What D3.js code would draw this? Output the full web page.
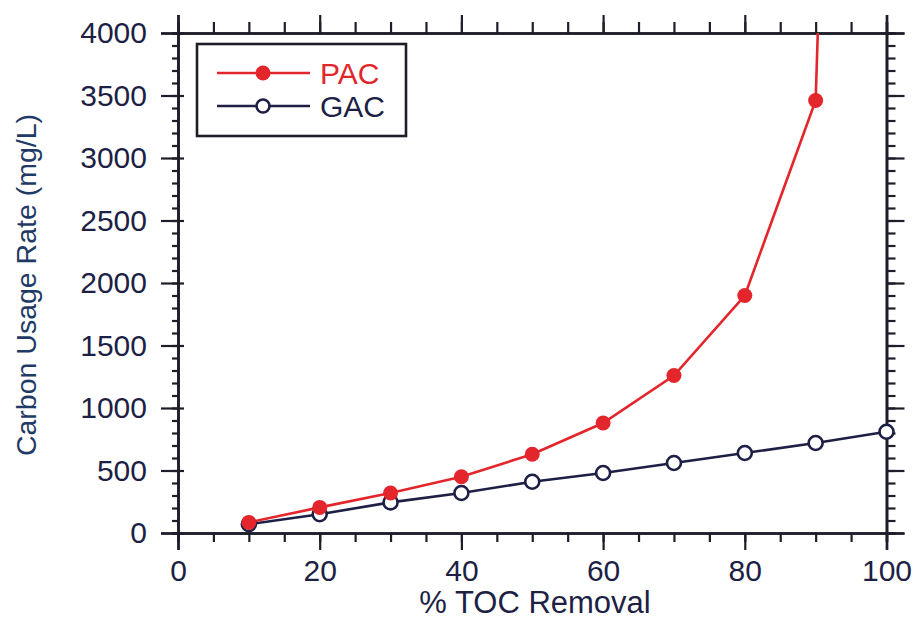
<!DOCTYPE html>
<html><head><meta charset="utf-8">
<script src="https://cdn.jsdelivr.net/npm/d3@7"></script>
<style>body{margin:0;background:#fff}svg{display:block}text{font-family:"Liberation Sans",Arial,sans-serif}</style>
</head><body><svg id="c" width="918" height="620"></svg>
<script>
const pacX = [10, 20, 30, 40, 50, 60, 70, 80, 90];
const pacY = [85, 205, 320, 450, 630, 880, 1260, 1900, 3460];
const pacTailX = [90, 90.3];
const pacTailY = [3460, 4000];
const gacX = [10, 20, 30, 40, 50, 60, 70, 80, 90, 100];
const gacY = [70, 150, 245, 320, 410, 480, 560, 640, 720, 810];
const xTicks = [0, 20, 40, 60, 80, 100];
const yTicks = [0, 500, 1000, 1500, 2000, 2500, 3000, 3500, 4000];
const seriesNames = ["PAC", "GAC"];

const svg = d3.select("#c");
const x = d3.scaleLinear().domain([0, 100]).range([178, 886.5]);
const y = d3.scaleLinear().domain([0, 4000]).range([533, 33]);
const red = "#e3262c", dark = "#1d1f45", axisCol = "#1e1e2a";

const minorX = d3.range(0, 101, 5), minorY = d3.range(0, 4001, 100);

function styleAxis(g){ g.selectAll("path.domain").attr("stroke", axisCol).attr("stroke-width", 2.6);
  g.selectAll(".tick line").attr("stroke", axisCol).attr("stroke-width", 2.2);
  g.selectAll("text").attr("fill", dark).attr("font-size", 30).attr("font-family", '"Liberation Sans", Arial, sans-serif'); }

// bottom
svg.append("g").attr("transform", `translate(0,${y(0)})`)
  .call(d3.axisBottom(x).tickValues(minorX).tickSize(9).tickFormat("")).call(styleAxis);
svg.append("g").attr("transform", `translate(0,${y(0)})`)
  .call(d3.axisBottom(x).tickValues(xTicks).tickSize(17).tickPadding(10).tickFormat(d3.format("d"))).call(styleAxis);
// top
svg.append("g").attr("transform", `translate(0,${y(4000)})`)
  .call(d3.axisTop(x).tickValues(minorX).tickSize(11).tickFormat("")).call(styleAxis);
svg.append("g").attr("transform", `translate(0,${y(4000)})`)
  .call(d3.axisTop(x).tickValues(xTicks).tickSize(18).tickFormat("")).call(styleAxis);
// left
svg.append("g").attr("transform", `translate(${x(0)},0)`)
  .call(d3.axisLeft(y).tickValues(minorY).tickSize(6).tickFormat("")).call(styleAxis);
const la = svg.append("g").attr("transform", `translate(${x(0)},0)`)
  .call(d3.axisLeft(y).tickValues(yTicks).tickSize(17).tickPadding(14).tickFormat(d3.format("d"))).call(styleAxis);
la.selectAll(".tick").append("line").attr("x1", 0).attr("x2", 6).attr("stroke", axisCol).attr("stroke-width", 2.2);
// right
svg.append("g").attr("transform", `translate(${x(100)},0)`)
  .call(d3.axisRight(y).tickValues(minorY).tickSize(9).tickFormat("")).call(styleAxis);
svg.append("g").attr("transform", `translate(${x(100)},0)`)
  .call(d3.axisRight(y).tickValues(yTicks).tickSize(18).tickFormat("")).call(styleAxis);

// titles
svg.append("text").attr("x", 535).attr("y", 613).attr("text-anchor", "middle")
  .attr("font-size", 31).attr("fill", dark).text("% TOC Removal");
svg.append("text").attr("transform", "translate(36,285) rotate(-90)").attr("text-anchor", "middle")
  .attr("font-size", 28.5).attr("fill", "#1f3a66").text("Carbon Usage Rate (mg/L)");

const line = d3.line().x(d => x(d[0])).y(d => y(d[1]));
const pacPts = pacX.map((v, i) => [v, pacY[i]]);
const gacPts = gacX.map((v, i) => [v, gacY[i]]);
const tail = pacTailX.map((v, i) => [v, pacTailY[i]]);

svg.append("path").attr("d", line(gacPts)).attr("fill", "none").attr("stroke", dark).attr("stroke-width", 2.6);
svg.append("path").attr("d", line(pacPts.concat(tail.slice(1)))).attr("fill", "none").attr("stroke", red).attr("stroke-width", 2.6);
svg.selectAll("circle.g").data(gacPts).join("circle").attr("class", "g")
  .attr("cx", d => x(d[0])).attr("cy", d => y(d[1])).attr("r", 7)
  .attr("fill", "#fff").attr("stroke", dark).attr("stroke-width", 2.6);
svg.selectAll("circle.p").data(pacPts).join("circle").attr("class", "p")
  .attr("cx", d => x(d[0])).attr("cy", d => y(d[1])).attr("r", 7.5).attr("fill", red);

// legend
const lg = svg.append("g");
lg.append("rect").attr("x", 197).attr("y", 44).attr("width", 209).attr("height", 92)
  .attr("fill", "#fff").attr("stroke", axisCol).attr("stroke-width", 2.6);
const rows = [{name: seriesNames[0], col: red, filled: true, yy: 73}, {name: seriesNames[1], col: dark, filled: false, yy: 106}];
rows.forEach(r => {
  lg.append("line").attr("x1", 217).attr("x2", 310).attr("y1", r.yy).attr("y2", r.yy).attr("stroke", r.col).attr("stroke-width", 2.6);
  if (r.filled) lg.append("circle").attr("cx", 263).attr("cy", r.yy).attr("r", 7.5).attr("fill", red);
  else lg.append("circle").attr("cx", 263).attr("cy", r.yy).attr("r", 6.5).attr("fill", "#fff").attr("stroke", dark).attr("stroke-width", 2.6);
  lg.append("text").attr("x", 320).attr("y", r.yy + 11).attr("font-size", 30).attr("fill", r.filled ? red : dark).text(r.name);
});
</script></body></html>
